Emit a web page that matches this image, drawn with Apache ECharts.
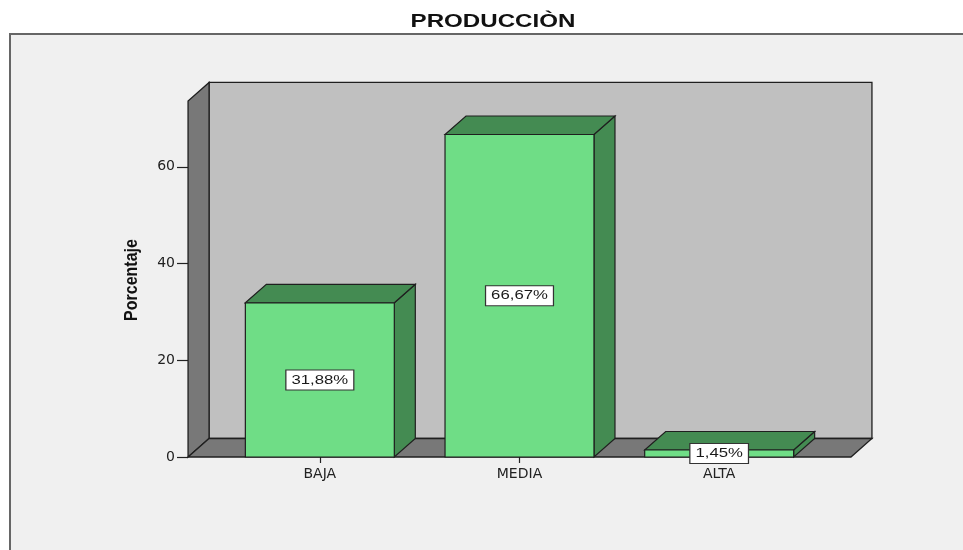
<!DOCTYPE html>
<html>
<head>
<meta charset="utf-8">
<script src="https://cdn.jsdelivr.net/npm/echarts@6/dist/echarts.min.js"></script>
<style>html,body{margin:0;padding:0;background:#fff;}#c{width:963px;height:550px;}</style>
</head>
<body>
<div id="c"></div>
<script>
const categories = ['BAJA', 'MEDIA', 'ALTA'];
const percentages = [31.88, 66.67, 1.45];
const yTicks = [0, 20, 40, 60];
const titleText = 'PRODUCCIÒN';
const yAxisTitle = 'Porcentaje';

const DX = 21, DY = -18.5;
const WALL_TOP = 73.6;
const EXT = 0.16;
const BAR_FRAC = 0.746;
const EDGE = '#1f1f1f';

const chart = echarts.init(document.getElementById('c'));

function frameItem(params, api) {
  const p0 = api.coord([0, 0]);
  const pN = api.coord([categories.length - 1, 0]);
  const band = api.size([1, 0])[0];
  const left = p0[0] - band / 2 - EXT * band;
  const right = pN[0] + band / 2 + EXT * band;
  const bot = p0[1];
  const top = api.coord([0, WALL_TOP])[1];
  const st = { stroke: EDGE, lineWidth: 1.3 };
  return {
    type: 'group',
    children: [
      { type: 'polygon', shape: { points: [[left + DX, top + DY], [right + DX, top + DY], [right + DX, bot + DY], [left + DX, bot + DY]] },
        style: Object.assign({ fill: '#c0c0c0' }, st) },
      { type: 'polygon', shape: { points: [[left, bot], [left, top], [left + DX, top + DY], [left + DX, bot + DY]] },
        style: Object.assign({ fill: '#787878' }, st) },
      { type: 'polygon', shape: { points: [[left, bot], [left + DX, bot + DY], [right + DX, bot + DY], [right, bot]] },
        style: Object.assign({ fill: '#787878' }, st) }
    ]
  };
}

function barItem(params, api) {
  const xi = api.value(0);
  const v = api.value(1);
  const c = api.coord([xi, v]);
  const b = api.coord([xi, 0]);
  const band = api.size([1, 0])[0];
  const w = band * BAR_FRAC;
  const x0 = c[0] - w / 2, x1 = c[0] + w / 2;
  const top = c[1], bot = b[1];
  const st = { stroke: EDGE, lineWidth: 1.2 };
  const label = v.toFixed(2).replace('.', ',') + '%';
  return {
    type: 'group',
    children: [
      { type: 'polygon', shape: { points: [[x1, top], [x1 + DX, top + DY], [x1 + DX, bot + DY], [x1, bot]] },
        style: Object.assign({ fill: '#448b52' }, st) },
      { type: 'polygon', shape: { points: [[x0, top], [x0 + DX, top + DY], [x1 + DX, top + DY], [x1, top]] },
        style: Object.assign({ fill: '#448b52' }, st) },
      { type: 'rect', shape: { x: x0, y: top, width: w, height: bot - top },
        style: Object.assign({ fill: '#6fdd86' }, st) },
      { type: 'text', x: c[0], y: (top + bot) / 2, scaleX: 1.24,
        style: { text: label, fill: '#1a1a1a', font: '13.5px "Liberation Sans", Arial, sans-serif',
          align: 'center', verticalAlign: 'middle',
          backgroundColor: '#ffffff', borderColor: '#333', borderWidth: 1, padding: [3, 4, 2, 4] } }
    ]
  };
}

const option = {
  backgroundColor: '#ffffff',
  animation: false,
  graphic: [
    { type: 'rect', z: -10, shape: { x: 10, y: 34, width: 1000, height: 600 },
      style: { fill: '#f0f0f0', stroke: '#666', lineWidth: 2 } },
    { type: 'text', x: 493, y: 21.5, scaleX: 1.27,
      style: { text: titleText, font: 'bold 19px "Liberation Sans", Arial, sans-serif', fill: '#111',
        align: 'center', verticalAlign: 'middle' } },
    { type: 'text', x: 132, y: 280, rotation: Math.PI / 2, scaleY: 1.15,
      style: { text: yAxisTitle, font: 'bold 16px "Liberation Sans", Arial, sans-serif', fill: '#111',
        align: 'center', verticalAlign: 'middle' } }
  ],
  grid: { left: 220, right: 144, top: 70, bottom: 93, containLabel: false },
  xAxis: {
    type: 'category',
    data: categories,
    axisLine: { show: false },
    axisTick: { show: true, alignWithLabel: true, length: 6, lineStyle: { color: '#222', width: 1.2 } },
    axisLabel: { margin: 10, color: '#222', fontSize: 14, fontFamily: '"DejaVu Sans", sans-serif' },
    splitLine: { show: false }
  },
  yAxis: {
    type: 'value',
    min: 0, max: 80, interval: 20,
    offset: 32,
    axisLine: { show: false },
    axisTick: { show: true, length: 11, customValues: yTicks, lineStyle: { color: '#222', width: 1.2 } },
    axisLabel: { customValues: yTicks, margin: 13, color: '#222', fontSize: 14, fontFamily: '"DejaVu Sans", sans-serif' },
    splitLine: { show: false }
  },
  series: [
    { type: 'custom', z: 1, renderItem: frameItem, data: [[0, 0]], silent: true, clip: false },
    { type: 'custom', z: 3, renderItem: barItem, clip: false,
      data: percentages.map((v, i) => [i, v]) }
  ]
};
chart.setOption(option);
</script>
</body>
</html>
